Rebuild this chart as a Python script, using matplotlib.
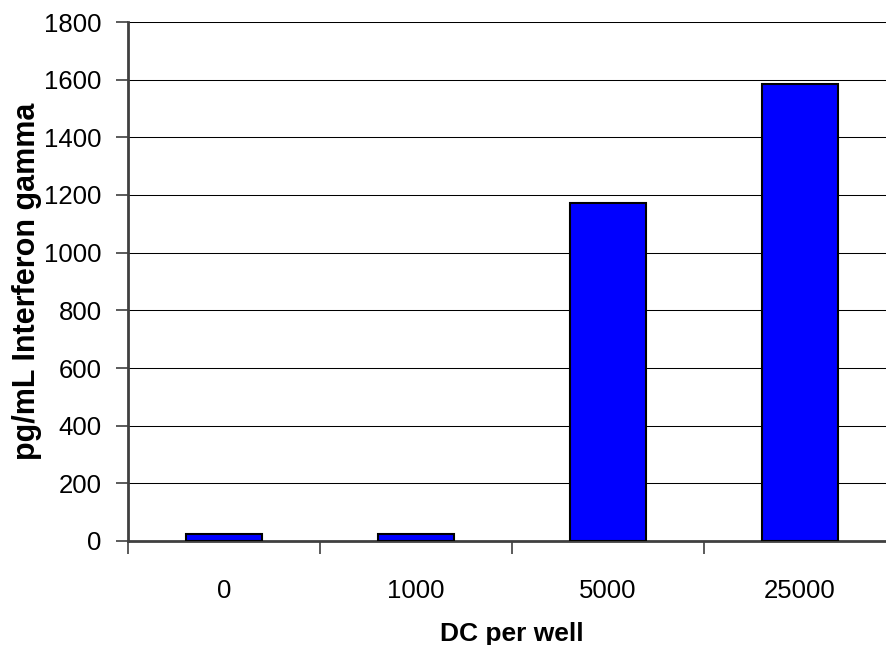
import matplotlib
matplotlib.use("Agg")
import matplotlib.pyplot as plt
import numpy as np

categories = ["0", "1000", "5000", "25000"]
values = [25, 25, 1172, 1585]
yticks = [0, 200, 400, 600, 800, 1000, 1200, 1400, 1600, 1800]

plt.rcParams['font.family'] = ['Liberation Sans', 'DejaVu Sans']

W, H = 887, 645
fig = plt.figure(figsize=(W/100, H/100), dpi=100)
ax = fig.add_axes([128/W, (H-541)/H, (896-128)/W, (541-22)/H])

x = np.arange(len(categories))
ax.bar(x, values, width=0.4, color="#0000FF", edgecolor="black", linewidth=1.5, zorder=3)

ax.set_xlim(-0.5, len(categories) - 0.5)
ax.set_ylim(0, 1800)
ax.set_yticks(yticks)
ax.set_yticklabels([str(v) for v in yticks], fontsize=18.5)
ax.yaxis.grid(True, color="black", linewidth=0.75)
ax.set_axisbelow(True)

# category labels at centers, tick marks at boundaries
ax.set_xticks(x)
ax.set_xticklabels(categories, fontsize=18.5)
ax.tick_params(axis="x", which="major", length=0, pad=27)
ax.set_xticks(np.arange(-0.5, len(categories), 1.0), minor=True)
ax.tick_params(axis="x", which="minor", length=9, width=1.2, color="#404040")
ax.tick_params(axis="y", which="major", length=9, width=1.2, color="#404040", pad=10)

for s in ["top", "right"]:
    ax.spines[s].set_visible(False)
for s in ["left", "bottom"]:
    ax.spines[s].set_color("#404040")
    ax.spines[s].set_linewidth(2)

ax.set_xlabel("DC per well", fontsize=19, fontweight="bold", labelpad=14)
ax.set_ylabel("pg/mL Interferon gamma", fontsize=22, fontweight="bold")
ax.yaxis.set_label_coords((42-128)/(896-128), 0.5)

fig.savefig("out.png", dpi=100)
